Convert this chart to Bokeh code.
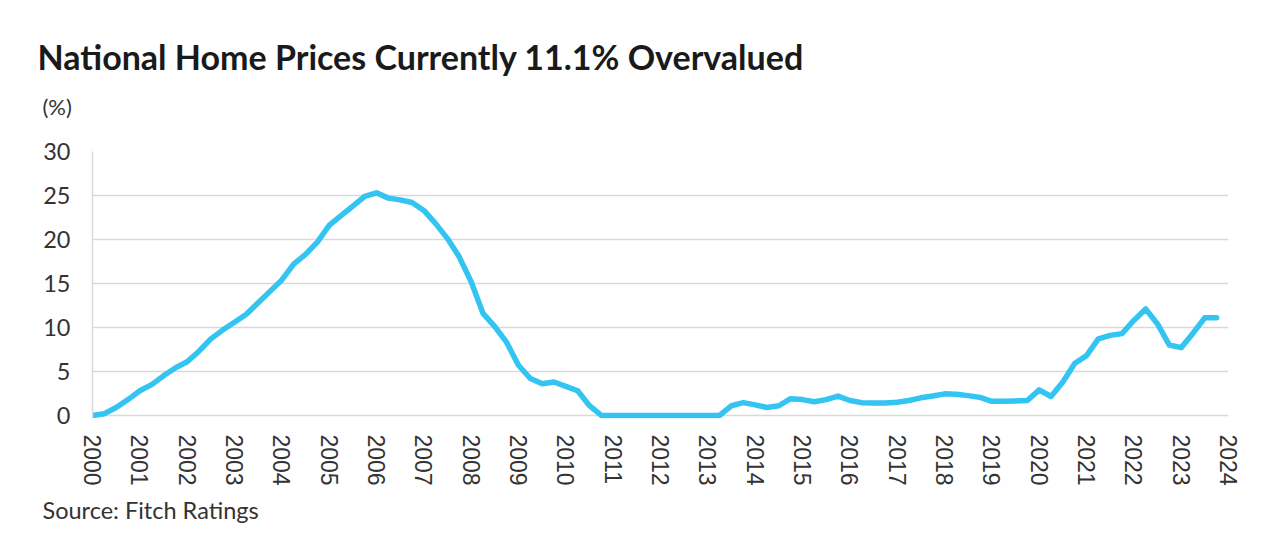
from bokeh.plotting import figure
from bokeh.models import Range1d, FixedTicker, Title
from bokeh.embed import file_html
from bokeh.resources import INLINE

# ---- data ----
years = list(range(2000, 2024))
values = [
    0.0, 0.2, 0.9, 1.8,      # 2000
    2.8, 3.5, 4.5, 5.4,      # 2001
    6.1, 7.3, 8.7, 9.7,      # 2002
    10.6, 11.5, 12.8, 14.1,  # 2003
    15.4, 17.2, 18.3, 19.7,  # 2004
    21.6, 22.7, 23.8, 24.9,  # 2005
    25.3, 24.7, 24.5, 24.2,  # 2006
    23.3, 21.8, 20.1, 18.0,  # 2007
    15.2, 11.6, 10.1, 8.3,   # 2008
    5.7, 4.2, 3.6, 3.8,      # 2009
    3.3, 2.8, 1.1, 0.0,      # 2010
    0.0, 0.0, 0.0, 0.0,      # 2011
    0.0, 0.0, 0.0, 0.0,      # 2012
    0.0, 0.0, 1.1, 1.45,     # 2013
    1.2, 0.9, 1.1, 1.9,      # 2014
    1.8, 1.55, 1.8, 2.2,     # 2015
    1.7, 1.45, 1.4, 1.4,     # 2016
    1.5, 1.7, 2.0, 2.2,      # 2017
    2.45, 2.4, 2.25, 2.05,   # 2018
    1.6, 1.6, 1.65, 1.7,     # 2019
    2.9, 2.15, 3.8, 5.9,     # 2020
    6.8, 8.7, 9.1, 9.3,      # 2021
    10.8, 12.1, 10.4, 8.0,   # 2022
    7.7, 9.35, 11.1, 11.1,   # 2023
]
x_ticks = list(range(2000, 2025))
y_ticks = [0, 5, 10, 15, 20, 25, 30]
title_text = "National Home Prices Currently 11.1% Overvalued"
unit_text = "(%)"
source_text = "Source: Fitch Ratings"

xs = [y + q / 4 for y in years for q in range(4)]

LINE = "#33C4F2"
GRID = "#D9D9D9"
TEXT = "#333333"

p = figure(width=1280, height=542, output_backend="svg", toolbar_location=None,
           x_range=Range1d(2000, 2024), y_range=Range1d(-0.35, 30),
           min_border_left=92, min_border_right=52, min_border_top=151,
           min_border_bottom=124)
p.outline_line_color = None
p.background_fill_color = "white"
p.border_fill_color = "white"

p.line(xs, values, line_color=LINE, line_width=5.5, line_join="round", line_cap="round")

p.xaxis.ticker = FixedTicker(ticks=x_ticks)
p.yaxis.ticker = FixedTicker(ticks=y_ticks)
p.xaxis.major_label_orientation = "vertical"
p.xaxis.axis_line_color = None
p.xaxis.major_tick_line_color = None
p.xaxis.minor_tick_line_color = None
p.xaxis.major_label_text_font = "Liberation Sans"
p.xaxis.major_label_text_font_size = "23px"
p.xaxis.major_label_text_color = TEXT
p.xaxis.major_label_standoff = 10

p.yaxis.axis_line_color = GRID
p.yaxis.axis_line_width = 1.5
p.yaxis.major_tick_line_color = None
p.yaxis.minor_tick_line_color = None
p.yaxis.major_label_text_font = "Lato"
p.yaxis.major_label_text_font_size = "23.5px"
p.yaxis.major_label_text_color = TEXT
p.yaxis.major_label_standoff = 16

p.xgrid.grid_line_color = None
p.ygrid.grid_line_color = GRID
p.ygrid.grid_line_width = 1.5

# above: first added sits nearest the plot
p.add_layout(Title(text=unit_text, align="left", offset=-50, standoff=64,
                   text_font="Lato", text_font_size="22px", text_font_style="normal",
                   text_color=TEXT), "above")
p.add_layout(Title(text=title_text, align="left", offset=-55, standoff=-36,
                   text_font="Lato", text_font_size="34px", text_font_style="bold",
                   text_color="#1a1a1a"), "above")
p.add_layout(Title(text=source_text, align="left", offset=-50, standoff=11,
                   text_font="Lato", text_font_size="23.5px", text_font_style="normal",
                   text_color=TEXT), "below")

open("out.html", "w").write(file_html(p, INLINE))
